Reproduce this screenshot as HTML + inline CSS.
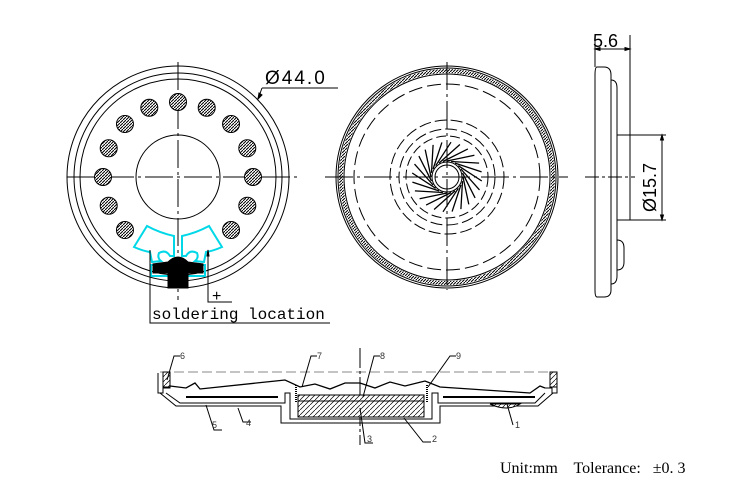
<!DOCTYPE html>
<html><head><meta charset="utf-8"><style>
html,body{margin:0;padding:0;background:#fff;width:740px;height:491px;overflow:hidden}
svg{display:block}
</style></head><body>
<svg id="s" width="740" height="491" viewBox="0 0 740 491" xmlns="http://www.w3.org/2000/svg">
<defs>
<pattern id="h" width="3" height="3" patternUnits="userSpaceOnUse"><rect width="3" height="3" fill="#fff"/><path d="M0 3L3 0" stroke="#000" stroke-width="1"/></pattern>
<pattern id="h2" width="5" height="5" patternUnits="userSpaceOnUse"><rect width="5" height="5" fill="#fff"/><path d="M0 5L5 0" stroke="#000" stroke-width="0.7"/></pattern>
</defs>
<g fill="none" stroke="#000" stroke-width="1">
<!-- left view -->
<circle cx="178" cy="177" r="111"/>
<circle cx="178" cy="177" r="104"/>
<circle cx="178" cy="177" r="98"/>
<circle cx="178" cy="177" r="42"/>
<path d="M67 177H297" stroke-dasharray="28,4,3,4"/>
<path d="M178 62V300" stroke-dasharray="28,4,3,4"/>
<g id="holes"></g>
<!-- cyan terminal -->
<path d="M147 226 Q160 233 174 236 L174 256 L170 256 Q166 249 159 253 Q157 258 161 261 L152 262 L150 252 Q143 251 134 247 Z" stroke="#00d8e8" stroke-width="2"/>
<path d="M209 226 Q196 233 182 236 L182 256 L186 256 Q190 249 197 253 Q199 258 195 261 L204 262 L206 252 Q213 251 222 247 Z" stroke="#00d8e8" stroke-width="2"/>
<path d="M151 265 H205 V276 H151 Z" stroke="#00d8e8" stroke-width="2"/>
<path d="M168 262 Q178 252 188 262 L203 264 V273 H188 V288 H168 V273 H153 V264 Z" fill="#000"/>
<!-- leaders -->
<path d="M150 250V323H330"/>
<path d="M208 250V302H232"/>
<path d="M208 250l-1 6h2z" fill="#000"/>
<path d="M262 88H338M262 88L258 99"/>
<path d="M258 99l1-6 3 2z" fill="#000"/>
<!-- middle view -->
<circle cx="447" cy="177" r="111"/>
<circle cx="447" cy="177" r="109"/>
<circle cx="447" cy="177" r="106" stroke="url(#h)" stroke-width="4"/>
<circle cx="447" cy="177" r="103"/>
<circle cx="447" cy="177" r="93" stroke-dasharray="14,5"/>
<circle cx="447" cy="177" r="57" stroke-dasharray="12,4"/>
<circle cx="447" cy="177" r="48" stroke-dasharray="12,4"/>
<circle cx="447" cy="177" r="41" stroke-dasharray="10,4"/>
<circle cx="447" cy="177" r="15"/>
<circle cx="447" cy="177" r="12"/>
<g id="blades"></g>
<path d="M325 177H568" stroke-dasharray="28,4,3,4"/>
<path d="M447 62V290" stroke-dasharray="28,4,3,4"/>
<!-- side view -->
<path d="M597 67H604Q611 67 611 75V290Q611 297 604 297H597Q595 297 595 290V75Q595 67 597 67Z"/>
<path d="M611 80Q617 80 617 88V276Q617 284 611 284"/>
<path d="M617 135H630V220H617"/>
<path d="M617 240Q624 240 624 248V262Q624 270 617 270Z"/>
<path d="M585 177H635" stroke-dasharray="14,3,3,3"/>
<path d="M595 35V67M630 35V135M595 49H630M630 135H666M630 220H666M662 135V220"/>
<path d="M595 49l5-1.5v3zM630 49l-5-1.5v3zM662 135l-1.5 5h3zM662 220l-1.5-5h3z" fill="#000"/>
<!-- section -->
<path d="M160 372H555" stroke="#888" stroke-dasharray="10,4"/>
<path d="M360 348V445" stroke-dasharray="20,3,3,3"/>
<path d="M158 373V393H163V388H170V386"/>
<path d="M557 373V393H552V388H545"/>
<rect x="163" y="372" width="7" height="15" fill="url(#h2)"/>
<rect x="550" y="372" width="7" height="15" fill="url(#h2)"/>
<path d="M166 393L180 403H285V393H290V419H432V393H438V403H535L545 393" />
<path d="M160 393L176 406H281V423H440V406H538L553 393"/>
<path d="M170 386L186 388L195 383L200 389L285 380L300 387L315 384L330 389L345 383L360 383L375 388L390 382L405 386L425 381L440 387L530 393L540 386L545 388" stroke-width="1.3"/>
<path d="M186 397H278M443 397H535" stroke-width="2"/>
<rect x="298" y="395" width="126" height="6" fill="url(#h2)"/>
<rect x="298" y="401" width="126" height="16" fill="url(#h2)"/>
<path d="M490 404Q507 412 520 404Z" fill="url(#h2)"/>
<path d="M296 385V402M427 385V402" stroke-width="2" stroke-dasharray="1,1"/>
<!-- label leaders -->
<path d="M180 356H174L167 380M317 356H311L302 387M380 356H374L363 397M456 356H450L428 387"/>
<path d="M206 405L214 430H222M238 408L243 422H251M360 408L365 443H373M404 418L423 442H431M507 404L513 425"/>
</g>
<g font-family="Liberation Sans, sans-serif" fill="#000">
<text x="265" y="84" font-size="19" letter-spacing="2">Ø44.0</text>
<text x="152" y="319" font-family="Liberation Mono, monospace" font-size="16">soldering location</text>
<text x="212" y="301" font-size="16">+</text>
<text x="593" y="47" font-size="18">5.6</text>
<text x="0" y="0" font-size="18" transform="translate(656,212) rotate(-90)">Ø15.7</text>
<g font-size="9" fill="#333">
<text x="180" y="359">6</text><text x="317" y="359">7</text><text x="380" y="359">8</text><text x="456" y="359">9</text>
<text x="212" y="428">5</text><text x="246" y="426">4</text><text x="367" y="442">3</text><text x="432" y="442">2</text><text x="515" y="428">1</text>
</g>
<text x="500" y="473" font-family="Liberation Serif, serif" font-size="16" xml:space="preserve">Unit:mm    Tolerance:   ±0. 3</text>
</g>
</svg>
<script>
var ns="http://www.w3.org/2000/svg";
var g=document.getElementById("holes");
for(var i=-6;i<=6;i++){var a=i*22.5*Math.PI/180;var c=document.createElementNS(ns,"circle");
c.setAttribute("cx",178+75*Math.sin(a));c.setAttribute("cy",177-75*Math.cos(a));c.setAttribute("r",8.5);
c.setAttribute("fill","url(#h)");c.setAttribute("stroke","#000");g.appendChild(c);}
var b=document.getElementById("blades");var d="";
for(var k=0;k<24;k++){var t=k*15*Math.PI/180;var t2=t+0.9;
d+="M"+(447+16*Math.cos(t)).toFixed(1)+" "+(177+16*Math.sin(t)).toFixed(1)+"L"+(447+35*Math.cos(t2)).toFixed(1)+" "+(177+35*Math.sin(t2)).toFixed(1);}
var p=document.createElementNS(ns,"path");p.setAttribute("d",d);p.setAttribute("stroke","#000");p.setAttribute("stroke-width","1.3");b.appendChild(p);
</script>
</body></html>
